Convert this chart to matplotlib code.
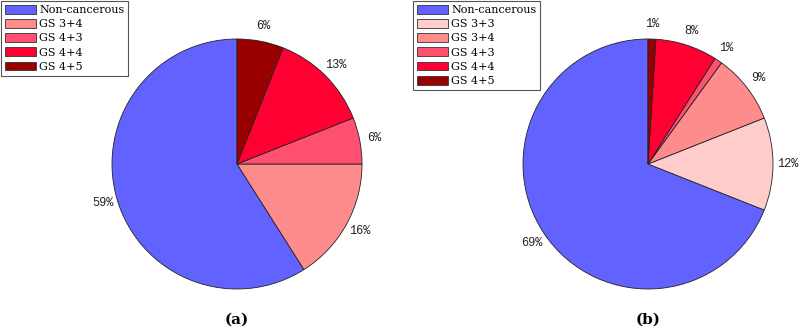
import matplotlib
matplotlib.use("Agg")
import matplotlib.pyplot as plt
from matplotlib.patches import Patch

# data
labels_a = ["Non-cancerous", "GS 3+4", "GS 4+3", "GS 4+4", "GS 4+5"]
values_a = [59, 16, 6, 13, 6]
colors_a = ["#6262ff", "#ff8c8c", "#ff5070", "#ff0033", "#990000"]

labels_b = ["Non-cancerous", "GS 3+3", "GS 3+4", "GS 4+3", "GS 4+4", "GS 4+5"]
values_b = [69, 12, 9, 1, 8, 1]
colors_b = ["#6262ff", "#ffcccc", "#ff8c8c", "#ff5070", "#ff0033", "#990000"]

W, H = 800, 334
R = 125  # pie radius in pixels
LIM = 1.3

fig = plt.figure(figsize=(W / 100, H / 100), dpi=100)


def draw_pie(cx, cy, values, colors, labels, leg_xy, tag):
    size = 2 * LIM * R
    ax = fig.add_axes([(cx - size / 2) / W, (H - cy - size / 2) / H, size / W, size / H])
    wedges, texts, autotexts = ax.pie(
        values, colors=colors, startangle=90, counterclock=True,
        autopct=lambda p: f"{p:.0f}%", pctdistance=1.12,
        wedgeprops=dict(edgecolor="#222222", linewidth=0.6))
    for t in autotexts:
        t.set_fontfamily(["Liberation Mono", "DejaVu Sans Mono"])
        t.set_fontsize(8.6)
        t.set_color("#222222")
    ax.set_xlim(-LIM, LIM)
    ax.set_ylim(-LIM, LIM)
    ax.set_aspect("equal")
    ax.axis("off")
    handles = [Patch(facecolor=c, edgecolor="#333333", linewidth=0.6) for c in colors]
    leg = fig.legend(handles, labels, loc="upper left",
                     bbox_to_anchor=(leg_xy[0] / W, 1 - leg_xy[1] / H),
                     prop=dict(family="DejaVu Serif", size=8),
                     fancybox=False, framealpha=1, edgecolor="#555555",
                     handlelength=2.8, handleheight=0.85, handletextpad=0.3,
                     labelspacing=0.35, borderpad=0.35, borderaxespad=0)
    leg.get_frame().set_linewidth(0.8)
    fig.text(cx / W, 1 - 320 / H, tag, ha="center", va="center",
             family="DejaVu Serif", fontweight="bold", fontsize=11)


draw_pie(237, 164, values_a, colors_a, labels_a, (1, 1), "(a)")
draw_pie(648, 164, values_b, colors_b, labels_b, (413, 1), "(b)")

plt.savefig("out.png", dpi=100)
